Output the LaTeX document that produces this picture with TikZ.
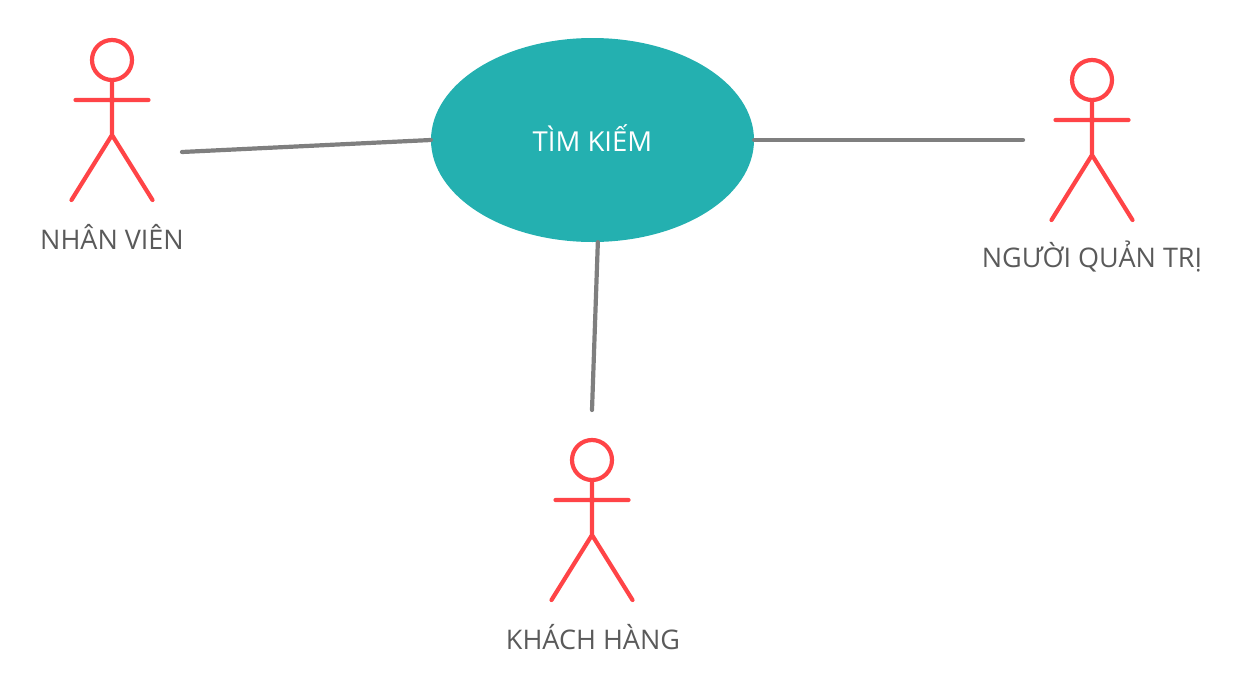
\documentclass[tikz,border=0pt]{standalone}
\usepackage{fontspec}
\setmainfont{Open Sans}
\usepackage{xcolor}
\usetikzlibrary{
positioning,
shapes.geometric
}
\definecolor{actorred}{HTML}{FF4447}
\definecolor{usecase}{HTML}{24B0B0}
\definecolor{linegray}{HTML}{7F7F7F}
\definecolor{textgray}{HTML}{5A5A5A}

\begin{document}
\begin{tikzpicture}[
x=1pt,
y=-1pt,
actor/.pic={
\draw[actorred,line width=4.2pt,line cap=round,line join=round]
(0,-40) circle[radius=20]
(0,-20) -- (0,35)
(-36.5,0) -- (36.5,0)
(-40.5,100) -- (0,35) -- (40.5,100);
},
caption/.style={
text=textgray,
font=\fontsize{27}{32}\selectfont,
inner sep=0pt
},
link/.style={draw=linegray,line width=4.2pt,line cap=round}
]
\useasboundingbox (0,0) rectangle (1244,696);

\node[ellipse,fill=usecase,minimum width=323pt,minimum height=204pt,inner sep=0pt,
text=white,font=\fontsize{27.5}{32}\selectfont] (search) at (592.5,140) {\raisebox{2pt}[\height][\depth]{TÌM KIẾM}};

\pic at (112,100) {actor};
\pic at (1092,120) {actor};
\pic at (592,500) {actor};

\node[caption] (staff) at (112,237) {NHÂN VIÊN};
\node[caption] (admin) at (1092,257) {NGƯỜI QUẢN TRỊ};
\node[caption] (customer) at (593,637) {KHÁCH HÀNG};

\coordinate (staffend) at (182,152);
\coordinate (adminend) at (1023,140);
\coordinate (customerend) at (592,410);

\draw[link] (staffend) -- (search.west);
\draw[link] (search.east) -- (adminend);
\draw[link] (search.-87) -- (customerend);

\end{tikzpicture}
\end{document}
